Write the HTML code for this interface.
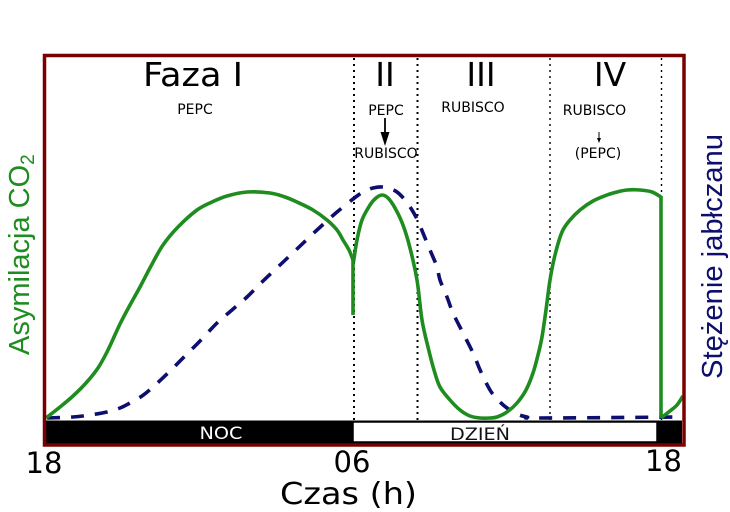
<!DOCTYPE html>
<html><head><meta charset="utf-8"><style>
html,body{margin:0;padding:0;background:#fff;}
svg{display:block;}
</style></head><body>
<svg id="chart" width="730" height="512" viewBox="0 0 730 512" xmlns="http://www.w3.org/2000/svg">
<rect x="0" y="0" width="730" height="512" fill="#fff"/>
<!-- dotted phase lines -->
<g stroke="#000" stroke-dasharray="2 4" fill="none">
<line x1="354" y1="58" x2="354" y2="421" stroke-width="2"/>
<line x1="417.5" y1="58" x2="417.5" y2="421" stroke-width="2"/>
<line x1="550" y1="58" x2="550" y2="421" stroke-width="1.4"/>
<line x1="661.5" y1="58" x2="661.5" y2="421" stroke-width="1.4"/>
</g>
<!-- day/night bar -->
<rect x="46" y="420.5" width="636" height="23" fill="#000"/>
<rect x="353" y="422" width="304" height="20" fill="#fff" stroke="#000" stroke-width="1.5"/>
<text x="221" y="439" font-family="DejaVu Sans, sans-serif" font-size="17" fill="#fff" text-anchor="middle" textLength="43" lengthAdjust="spacingAndGlyphs">NOC</text>
<text x="480" y="440" font-family="DejaVu Sans, sans-serif" font-size="17" fill="#111" text-anchor="middle" textLength="60" lengthAdjust="spacingAndGlyphs">DZIEŃ</text>
<!-- malate dashed -->
<polyline class="smooth" fill="none" stroke="#0e0e6e" stroke-width="3.6" stroke-dasharray="13 11" stroke-linejoin="round"
points="47,418 73,417 90,415 107,412 120,408 130,403 142,396 153,387 168,373 183,358 200,341 217,323 232,310 247,297 263,281 280,265 298,248 317,230 337,212 357,196 365,191 373,188 382,187 390,189 397,192 405,200 412,210 418,221 423,233 430,250 437,267 440,280 447,297 453,313 463,333 473,353 481,372 490,390 498,400 507,408 517,414 527,417 540,418 680,417"/>
<!-- CO2 assimilation -->
<polyline class="smooth" fill="none" stroke="#1e8c1e" stroke-width="3.6" stroke-linejoin="round"
points="46,418 60,407 73,396 86,383 98,368 108,350 120,324 130,305 140,287 151,266 163,245 178,227 197,210 212,202 227,196 247,192 270,193 285,197 297,202 313,210 327,220 337,230 343,240 349,250 353,260"/>
<line x1="353" y1="260" x2="353" y2="315" stroke="#1e8c1e" stroke-width="3.6"/>
<polyline class="smooth" fill="none" stroke="#1e8c1e" stroke-width="3.6" stroke-linejoin="round"
points="353.5,262 357,240 362,220 370,205 376,198 382,195 388,198 395,208 403,225 410,248 417,280 422,320 428,347 434,370 440,387 450,400 460,410 470,416 480,418 490,418 497,417 507,412 517,403 526,390 533,373 538,355 542,337 546,310 550,280 555,255 562,232 570,220 580,210 593,201 607,195 617,192 627,190 640,190 652,192 661,197"/>
<line x1="661" y1="196" x2="661" y2="418" stroke="#1e8c1e" stroke-width="3.6"/>
<polyline class="smooth" fill="none" stroke="#1e8c1e" stroke-width="3.6" stroke-linejoin="round"
points="661,418 670,411 677,405 683,396"/>
<!-- frame -->
<rect x="44.5" y="55.5" width="639.5" height="389.5" fill="none" stroke="#7a0000" stroke-width="3.5"/>
<!-- phase labels -->
<g font-family="DejaVu Sans, sans-serif" fill="#000" text-anchor="middle">
<text x="193" y="86" font-size="33" textLength="100" lengthAdjust="spacingAndGlyphs">Faza I</text>
<text x="385" y="86" font-size="33">II</text>
<text x="481" y="86" font-size="33">III</text>
<text x="610" y="86" font-size="33">IV</text>
<g font-size="14">
<text x="195" y="114">PEPC</text>
<text x="386" y="115">PEPC</text>
<text x="386" y="158">RUBISCO</text>
<text x="473" y="112">RUBISCO</text>
<text x="594.5" y="115">RUBISCO</text>
<text x="598" y="158">(PEPC)</text>
</g>
</g>
<line x1="385" y1="118" x2="385" y2="134" stroke="#000" stroke-width="1.8"/>
<polygon points="380.5,132 389.5,132 385,146" fill="#000"/>
<line x1="599" y1="132" x2="599" y2="139" stroke="#000" stroke-width="1"/>
<polygon points="597,138 601,138 599,143" fill="#000"/>
<!-- axis ticks labels -->
<g font-family="DejaVu Sans, sans-serif" fill="#000" text-anchor="middle" font-size="29">
<text x="44" y="473">18</text>
<text x="352" y="472">06</text>
<text x="663.5" y="471">18</text>
<text x="348.5" y="504" font-size="30" textLength="137" lengthAdjust="spacingAndGlyphs">Czas (h)</text>
</g>
<!-- y labels -->
<text transform="translate(29,355) rotate(-90)" font-family="Liberation Sans, Arial, sans-serif" font-size="29" fill="#1e8c1e">Asymilacja CO<tspan font-size="19" dy="5">2</tspan></text>
<text transform="translate(722,379) rotate(-90)" font-family="Liberation Sans, Arial, sans-serif" font-size="29" fill="#0e0e6e" textLength="245" lengthAdjust="spacingAndGlyphs">Stężenie jabłczanu</text>
</svg>
<script>
(function(){
  var NS="http://www.w3.org/2000/svg";
  var pls=document.querySelectorAll("polyline.smooth");
  for(var k=0;k<pls.length;k++){
    var pl=pls[k];
    var raw=pl.getAttribute("points").trim().split(/\s+/);
    var p=raw.map(function(s){var a=s.split(",");return [parseFloat(a[0]),parseFloat(a[1])];});
    if(p.length<3)continue;
    var d="M"+p[0][0]+","+p[0][1];
    for(var i=0;i<p.length-1;i++){
      var p0=p[i-1]||p[i],p1=p[i],p2=p[i+1],p3=p[i+2]||p[i+1];
      var c1x=p1[0]+(p2[0]-p0[0])/6,c1y=p1[1]+(p2[1]-p0[1])/6;
      var c2x=p2[0]-(p3[0]-p1[0])/6,c2y=p2[1]-(p3[1]-p1[1])/6;
      d+=" C"+c1x.toFixed(2)+","+c1y.toFixed(2)+" "+c2x.toFixed(2)+","+c2y.toFixed(2)+" "+p2[0]+","+p2[1];
    }
    var path=document.createElementNS(NS,"path");
    path.setAttribute("d",d);
    ["fill","stroke","stroke-width","stroke-dasharray","stroke-linejoin"].forEach(function(a){
      if(pl.hasAttribute(a))path.setAttribute(a,pl.getAttribute(a));
    });
    path.setAttribute("stroke-linecap","butt");
    pl.parentNode.replaceChild(path,pl);
  }
})();
</script>
</body></html>
